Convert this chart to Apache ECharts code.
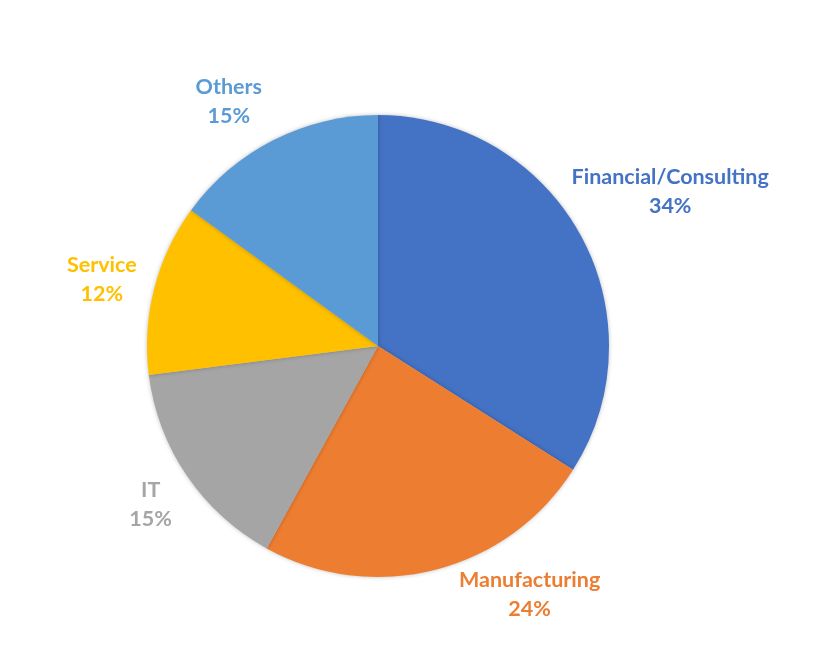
<!DOCTYPE html>
<html>
<head>
<meta charset="utf-8">
<script src="https://cdn.jsdelivr.net/npm/echarts@6/dist/echarts.min.js"></script>
<style>
html,body{margin:0;padding:0;background:#fff;}
#main{width:814px;height:655px;}
</style>
</head>
<body>
<div id="main"></div>
<script>
const categories = ['Financial/Consulting', 'Manufacturing', 'IT', 'Service', 'Others'];
const values = [34, 24, 15, 12, 15];
const colors = ['#4472C4', '#ED7D31', '#A5A5A5', '#FFC000', '#5B9BD5'];

// label placement (style): distance from centre in radii, angle tweak in degrees
const labelDist = [1.43, 1.26, 1.20, 1.23, 1.24];
const labelAngleTweak = [1, -17, -0.7, -0.8, -4.4];

const CX = 378, CY = 346, R = 231;
const total = values.reduce((a, b) => a + b, 0);

const chart = echarts.init(document.getElementById('main'), null, {renderer: 'canvas'});
chart.setOption({
  backgroundColor: '#ffffff',
  animation: false,
  series: [{
    type: 'pie',
    center: [CX, CY],
    radius: [0, R],
    startAngle: 90,
    clockwise: true,
    avoidLabelOverlap: false,
    itemStyle: {
      borderWidth: 0,
      shadowBlur: 4,
      shadowColor: 'rgba(0,0,0,0.25)'
    },
    label: {
      show: true,
      position: 'outside',
      formatter: p => p.name + '\n' + Math.round(p.percent) + '%',
      fontFamily: 'Lato',
      fontWeight: 'bold',
      fontSize: 21.5,
      lineHeight: 29,
      align: 'center'
    },
    labelLine: {show: false},
    labelLayout: function (params) {
      const i = params.dataIndex;
      let cum = 0;
      for (let k = 0; k < i; k++) cum += values[k];
      const mid = (cum + values[i] / 2) / total * 360 + labelAngleTweak[i];
      const a = mid * Math.PI / 180;
      const d = labelDist[i] * R;
      return {
        x: CX + d * Math.sin(a),
        y: CY - d * Math.cos(a),
        align: 'center',
        verticalAlign: 'middle'
      };
    },
    data: categories.map((c, i) => ({
      name: c,
      value: values[i],
      itemStyle: {color: colors[i]},
      label: {color: colors[i]}
    }))
  }]
});
</script>
</body>
</html>
